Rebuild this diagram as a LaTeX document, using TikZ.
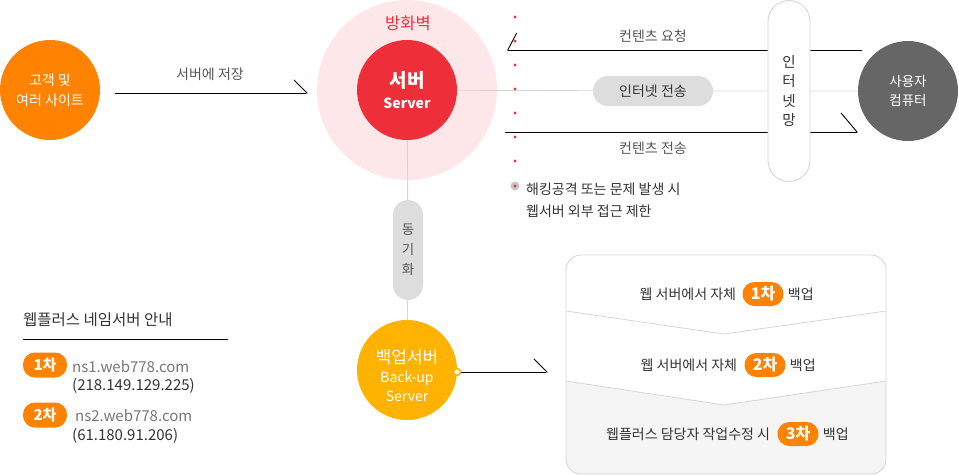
\documentclass[tikz,border=0pt]{standalone}
\usepackage{fontspec}
\setmainfont{Noto Sans CJK KR}
\usepackage{xcolor}
\usepackage{tikz}
\usetikzlibrary{arrows.meta,positioning}
\definecolor{orng}{HTML}{FF8200}
\definecolor{ambr}{HTML}{FFB300}
\definecolor{srvred}{HTML}{EE2F3A}
\definecolor{fwpink}{HTML}{FDE7E8}
\definecolor{usrgray}{HTML}{666666}
\definecolor{pillgray}{HTML}{DDDDDD}
\definecolor{ink}{HTML}{333333}
\definecolor{mute}{HTML}{555555}
\definecolor{soft}{HTML}{777777}
\definecolor{rim}{HTML}{D6D6D6}
\definecolor{boxbg}{HTML}{F5F5F5}
\newcommand{\fsz}[2]{\fontsize{#1}{#2}\selectfont}
\tikzset{
  hub/.style={circle,minimum size=100pt,inner sep=0pt,text=white,align=center},
  tag/.style={fill=orng,text=white,rounded corners=11.9pt,minimum width=42pt,minimum height=24pt,inner sep=0pt,font=\fsz{15}{15}\bfseries},
  lbl/.style={inner sep=0pt,text=mute,font=\fsz{14}{16}},
  rowtxt/.style={inner sep=0pt,text=ink,font=\fsz{14}{16}},
  feed/.style={line width=0.9pt,-{Straight Barb[left,length=13pt,width=26pt]}},
  thru/.style={rim,line width=0.9pt},
  vpill/.style={rectangle,inner sep=0pt,align=center,text=ink}
}
\newcommand{\rdot}[2]{\fill[srvred] (#1,#2) circle (1.6pt);}
\begin{document}
\begin{tikzpicture}[x=1pt,y=-1pt]
\useasboundingbox (0,0) rectangle (959,475);
\node[hub,fill=orng,font=\fsz{14}{20}] (cust) at (50,90) {고객 및\\여러 사이트};
\node[circle,fill=fwpink,minimum size=180pt,inner sep=0pt] (fw) at (407,90) {};
\node[text=srvred,inner sep=0pt,font=\fsz{16.5}{16}] (fwlbl) at (408,23) {방화벽};
\node[hub,fill=srvred,font=\fsz{14}{21}] (srv) at (407,90) {{\fsz{19}{21}\bfseries 서버}\\{\bfseries Server}};
\node[hub,fill=usrgray,font=\fsz{13.5}{19}] (usr) at (908,91) {사용자\\컴퓨터};
\node[vpill,fill=pillgray,rounded corners=14.9pt,minimum width=120pt,minimum height=30pt,font=\fsz{14}{16}] (xfer) at (653,91) {인터넷 전송};
\coordinate (stL) at (115,93); \coordinate (stR) at (308,93);
\draw[feed] (stL) -- (stR); \node[lbl] (stlbl) at (210,74) {서버에 저장};
\coordinate (rqR) at (862,50); \coordinate (rqL) at (507,50);
\draw[line width=0.9pt,-{Straight Barb[right,length=9pt,width=34pt]}] (rqR) -- (rqL); \node[lbl] (rqlbl) at (653,36) {컨텐츠 요청};
\coordinate (sdL) at (505,132); \coordinate (sdR) at (858,132);
\draw[line width=0.9pt,-{Straight Barb[left,length=16pt,width=38pt]}] (sdL) -- (sdR); \node[lbl] (sdlbl) at (653,148) {컨텐츠 전송};
\node[vpill,fill=white,draw=rim,line width=0.9pt,rounded corners=20.9pt,minimum width=42pt,minimum height=181pt,font=\fsz{14.5}{19.5}] (inet) at (789,91) {인\\터\\넷\\망};
\draw[thru] (srv) -- (xfer) -- (inet) -- (usr);
\rdot{515}{17} \rdot{515}{41} \rdot{515}{65} \rdot{515}{89} \rdot{515}{113} \rdot{515}{137} \rdot{515}{161}
\fill[black!22] (515,186) circle (4.5pt); \fill[srvred] (515,186) circle (1.6pt);
\node[rowtxt,anchor=west,align=left,font=\fsz{14}{22}] (hack) at (526,200) {해킹공격 또는 문제 발생 시\\웹서버 외부 접근 제한};
\node[vpill,fill=pillgray,rounded corners=14.9pt,minimum width=30pt,minimum height=100pt,text=mute,font=\fsz{13.5}{20}] (sync) at (408,250) {동\\기\\화};
\node[hub,fill=ambr] (bak) at (407,370) {};
\node[inner sep=0pt,text=white,align=center,font=\fsz{14}{19}] (baktxt) at (407,376) {{\fsz{17}{19}백업서버}\\Back-up\\Server};
\draw[thru] (srv) -- (sync) -- (bak);
\node[circle,fill=white,draw=ambr,line width=1.5pt,minimum size=7pt,inner sep=0pt] (bdot) at (457,372) {};
\coordinate (bkR) at (548,372);
\draw[feed] (bdot) -- (bkR);
\begin{scope}
\clip[rounded corners=15pt] (566,255) rectangle (886,474);
\fill[boxbg] (566,381) -- (724,405) -- (886,381) -- (886,474) -- (566,474) -- cycle;
\draw[rim,line width=0.8pt] (566,311) -- (724,334) -- (886,311);
\draw[rim,line width=0.8pt] (566,381) -- (724,405) -- (886,381);
\end{scope}
\draw[rim,line width=0.9pt,rounded corners=15pt] (566,255) rectangle (886,474);
\node[tag,minimum width=41pt,font=\fsz{16}{16}\bfseries] (b1) at (763,294) {1차};
\node[rowtxt,left=6pt of b1] (r1) {웹 서버에서 자체}; \node[rowtxt,right=4pt of b1] (r1e) {백업};
\node[tag,minimum width=41pt,font=\fsz{16}{16}\bfseries] (b2) at (765,365) {2차};
\node[rowtxt,left=7pt of b2] (r2) {웹 서버에서 자체}; \node[rowtxt,right=4pt of b2] (r2e) {백업};
\node[tag,minimum width=41pt,font=\fsz{16}{16}\bfseries] (b3) at (798,434) {3차};
\node[rowtxt,left=7pt of b3] (r3) {웹플러스 담당자 작업수정 시}; \node[rowtxt,right=4pt of b3] (r3e) {백업};
\node[rowtxt,anchor=west,font=\fsz{15.5}{16}] (ttl) at (23,320) {웹플러스 네임서버 안내};
\draw[line width=0.9pt] (23,339) -- (228,339);
\node[tag,minimum width=44pt,minimum height=25pt] (ns1tag) at (45,365) {1차};
\node[inner sep=0pt,anchor=west,text=soft,font=\fsz{15}{16}] (ns1) at (72,367) {ns1.web778.com};
\node[inner sep=0pt,anchor=west,text=ink,font=\fsz{15}{16}] (ip1) at (72,386) {(218.149.129.225)};
\node[tag,minimum width=44pt,minimum height=25pt] (ns2tag) at (45,415) {2차};
\node[inner sep=0pt,anchor=west,text=soft,font=\fsz{15}{16}] (ns2) at (75,416) {ns2.web778.com};
\node[inner sep=0pt,anchor=west,text=ink,font=\fsz{15}{16}] (ip2) at (72,436) {(61.180.91.206)};
\end{tikzpicture}
\end{document}
